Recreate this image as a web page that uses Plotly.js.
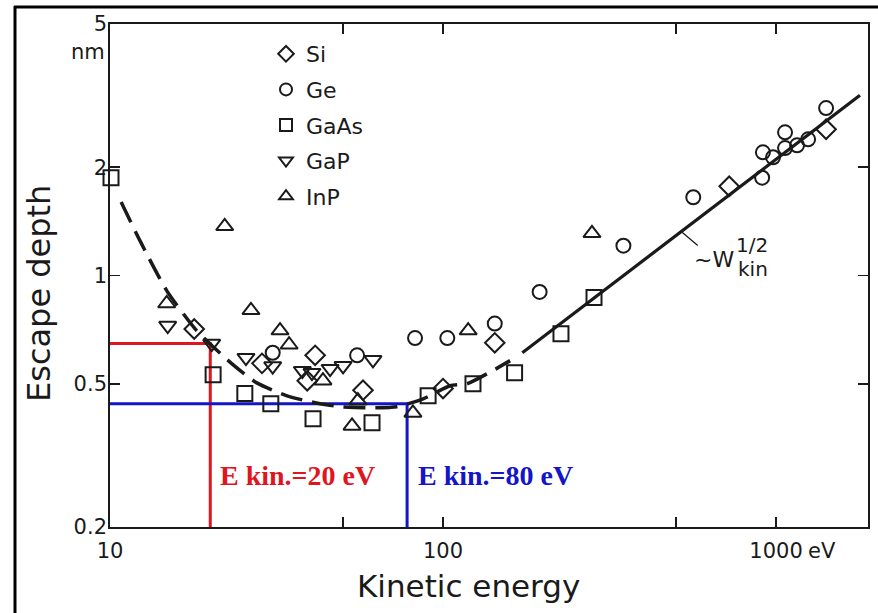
<!DOCTYPE html>
<html>
<head>
<meta charset="utf-8">
<script src="https://cdn.plot.ly/plotly-3.0.1.min.js"></script>
<style>
html,body{margin:0;padding:0;background:#fff;}
#chart{width:878px;height:613px;}
</style>
</head>
<body>
<div id="chart"></div>
<script>
// ---------- data ----------
const siX   = [17.9, 28.6, 41.3, 39.1, 57.5, 100, 143, 723, 1413];
const siY   = [0.71, 0.57, 0.60, 0.51, 0.48, 0.485, 0.65, 1.77, 2.55];

const geX   = [30.8, 55.2, 82.4, 103, 143, 195, 348, 564, 908, 913, 979, 1064, 1064, 1156, 1248, 1413];
const geY   = [0.61, 0.60, 0.67, 0.67, 0.735, 0.90, 1.21, 1.65, 1.87, 2.20, 2.13, 2.50, 2.26, 2.30, 2.39, 2.92];

const gaasX = [10.07, 20.4, 25.4, 30.4, 40.7, 61.2, 90.2, 123, 164, 226, 284];
const gaasY = [1.87, 0.53, 0.47, 0.44, 0.40, 0.39, 0.463, 0.50, 0.537, 0.689, 0.868];

const gapX  = [14.9, 20.2, 25.6, 30.8, 37.8, 40.4, 45.8, 50.1, 61.6];
const gapY  = [0.726, 0.647, 0.591, 0.56, 0.544, 0.537, 0.551, 0.561, 0.583];

const inpX  = [14.8, 22.1, 26.5, 32.4, 34.5, 43.6, 55.5, 53.3, 81.2, 119, 280];
const inpY  = [0.836, 1.37, 0.80, 0.703, 0.642, 0.51, 0.449, 0.382, 0.415, 0.703, 1.31];

// universal curve: dashed low-energy part and solid ~W^1/2 part
const curveX = [10.8, 12.3, 14.8, 18.2, 23.2, 27.6, 34.0, 41.3, 49.1, 58.3, 72.8, 87.1, 105, 118, 141, 159];
const curveY = [1.60, 1.25, 0.908, 0.703, 0.569, 0.503, 0.463, 0.443, 0.432, 0.429, 0.432, 0.454, 0.494, 0.50, 0.544, 0.580];
const lineX  = [173, 1786];
const lineY  = [0.61, 3.17];

// marked energies
const redX  = [10, 20, 20];
const redY  = [0.647, 0.647, 0.2];
const blueX = [10, 78, 78];
const blueY = [0.44, 0.44, 0.2];

// axes
const xTickVals = [10, 50, 100, 500, 1000];
const xTickText = ['10', '', '100', '', '1000'];
const yTickVals = [0.2, 0.5, 1, 2, 5];
const yTickText = ['0.2', '0.5', '1', '2', '5'];

// ---------- layout helpers ----------
const W = 878, H = 613;
const M = {l:110, r:10, t:24, b:86};
const pw = W - M.l - M.r, ph = H - M.t - M.b;
const px = v => (v - M.l) / pw;          // pixel -> paper x
const py = v => (H - M.b - v) / ph;      // pixel -> paper y

const ink = '#1a1a1a';
const FONT = 'DejaVu Sans, sans-serif';
const RED = '#e0161e', BLUE = '#1414c8';

function markerTrace(name, x, y, symbol, size) {
  return {
    type: 'scatter', mode: 'markers', name: name, x: x, y: y,
    legendgroup: name,
    marker: {symbol: symbol, size: size, color: ink, line: {color: ink, width: 2}},
    cliponaxis: false
  };
}

const traces = [
  {type:'scatter', mode:'lines', x: redX, y: redY, line:{color:RED, width:3}, showlegend:false, hoverinfo:'skip'},
  {type:'scatter', mode:'lines', x: blueX, y: blueY, line:{color:BLUE, width:3}, showlegend:false, hoverinfo:'skip'},
  {type:'scatter', mode:'lines', x: curveX, y: curveY, line:{color:ink, width:3.5, dash:'22px,10px', shape:'spline', smoothing:0.6}, showlegend:false, hoverinfo:'skip'},
  {type:'scatter', mode:'lines', x: lineX, y: lineY, line:{color:ink, width:3.2}, showlegend:false, hoverinfo:'skip'},
  markerTrace('Si',   siX,   siY,   'diamond-open', 15),
  markerTrace('Ge',   geX,   geY,   'circle-open', 14),
  markerTrace('GaAs', gaasX, gaasY, 'square-open', 15),
  markerTrace('GaP',  gapX,  gapY,  'triangle-down-open', 15),
  markerTrace('InP',  inpX,  inpY,  'triangle-up-open', 15)
];

const axisCommon = {
  type: 'log', showgrid: false, zeroline: false,
  showline: true, linecolor: ink, linewidth: 1.8, mirror: 'ticks',
  ticks: 'inside', ticklen: 10, tickwidth: 1.6, tickcolor: ink,
  tickmode: 'array', tickfont: {family: FONT, size: 21, color: ink}
};

const layout = {
  width: W, height: H,
  margin: M,
  paper_bgcolor: '#ffffff', plot_bgcolor: '#ffffff',
  showlegend: true,
  legend: {
    x: px(266), y: py(33), xanchor: 'left', yanchor: 'top',
    bgcolor: 'rgba(0,0,0,0)', borderwidth: 0,
    font: {family: FONT, size: 22, color: ink},
    tracegroupgap: 4, itemsizing: 'constant'
  },
  xaxis: Object.assign({}, axisCommon, {
    range: [1, 3.276],
    tickvals: xTickVals, ticktext: xTickText,
    ticklabelstandoff: 4
  }),
  yaxis: Object.assign({}, axisCommon, {
    range: [Math.log10(0.2), Math.log10(5)],
    tickvals: yTickVals, ticktext: yTickText,
    ticklabelstandoff: -3
  }),
  annotations: [
    // axis titles
    {xref:'paper', yref:'paper', x: px(468), y: py(586), xanchor:'center', yanchor:'middle',
     text:'Kinetic energy', showarrow:false, font:{family:FONT, size:31, color:ink}},
    {xref:'paper', yref:'paper', x: px(39), y: py(294), xanchor:'center', yanchor:'middle', textangle:-90,
     text:'Escape depth', showarrow:false, font:{family:FONT, size:32, color:ink}},
    // unit labels
    {xref:'paper', yref:'paper', x: px(107), y: py(52), xanchor:'right', yanchor:'middle',
     text:'nm', showarrow:false, font:{family:FONT, size:21, color:ink}},
    {xref:'paper', yref:'paper', x: px(806), y: py(551), xanchor:'left', yanchor:'middle',
     text:'eV', showarrow:false, font:{family:FONT, size:21, color:ink}},
    // marked energies
    {xref:'paper', yref:'paper', x: px(218), y: py(475), xanchor:'left', yanchor:'middle',
     text:'<b>E kin.=20 eV</b>', showarrow:false, font:{family:'Liberation Serif, serif', size:28, color:RED}},
    {xref:'paper', yref:'paper', x: px(416), y: py(475), xanchor:'left', yanchor:'middle',
     text:'<b>E kin.=80 eV</b>', showarrow:false, font:{family:'Liberation Serif, serif', size:28, color:BLUE}},
    // slope label
    {xref:'x', yref:'y', x: Math.log10(519), y: Math.log10(1.326), ax: 33, ay: 28,
     text:'~W', showarrow:true, arrowhead:0, arrowwidth:1.3, arrowcolor:ink, standoff:0,
     font:{family:FONT, size:22, color:ink}},
    {xref:'paper', yref:'paper', x: px(752), y: py(245), xanchor:'center', yanchor:'middle',
     text:'1/2', showarrow:false, font:{family:FONT, size:20, color:ink}},
    {xref:'paper', yref:'paper', x: px(753), y: py(269), xanchor:'center', yanchor:'middle',
     text:'kin', showarrow:false, font:{family:FONT, size:20, color:ink}}
  ],
  shapes: [
    {type:'line', xref:'paper', yref:'paper', x0: px(15), x1: px(15), y0: py(6), y1: py(640), line:{color:'#000', width:3}},
    {type:'line', xref:'paper', yref:'paper', x0: px(14), x1: px(890), y0: py(7), y1: py(7), line:{color:'#000', width:3}}
  ]
};

Plotly.newPlot('chart', traces, layout, {displayModeBar: false, staticPlot: true});
</script>
</body>
</html>
